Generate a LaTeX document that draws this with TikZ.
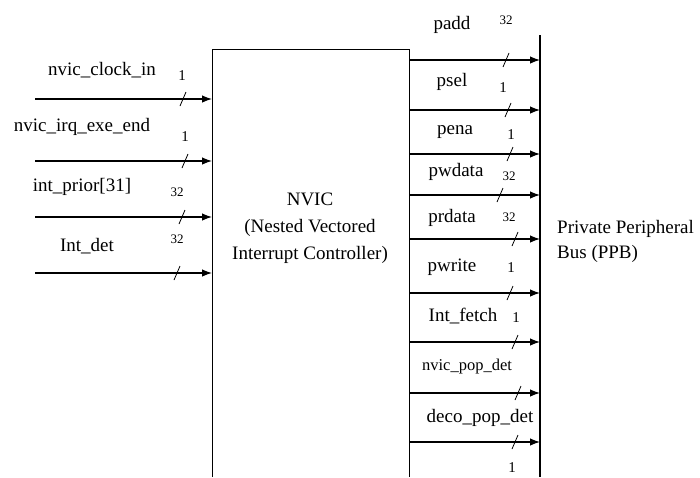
\documentclass[tikz,border=0pt]{standalone}
\usepackage{fontspec}
\setmainfont{Liberation Serif}
\usetikzlibrary{arrows.meta, positioning, calc}

\tikzset{
  sig/.style={line width=1.2pt, -{Latex[length=10pt,width=7.5pt]}},
  lbl/.style={font=\fontsize{19}{27}\selectfont, inner sep=0pt},
  wid/.style={font=\fontsize{13}{15}\selectfont, inner sep=0pt},
  buswidth/.pic={\draw[line width=0.8pt] (-3,7) -- (3,-7);}
}

\begin{document}
\begin{tikzpicture}[x=1pt, y=-1pt]
		\useasboundingbox (0,0) rectangle (700,477);
		
		% NVIC block (open at the bottom) and the bus
		\coordinate (boxW) at (212,0);
		\coordinate (boxE) at (409,0);
		\coordinate (busW) at (540,0);
		\draw[line width=1pt] (212,477) -- (212,49) -- (409,49) -- (409,477);
		\draw[line width=1.2pt] (540,35) -- (540,477);
		\node[lbl, align=center] (nvic) at (310,228) {NVIC\\(Nested Vectored\\Interrupt Controller)};
		\node[lbl, align=left, anchor=west, font=\fontsize{19}{25}\selectfont] (ppb) at (557,241) {Private Peripheral\\Bus (PPB)};
		
		% Inputs
		\coordinate (clkin) at (35,99);
		\coordinate (irqend) at (35,161);
		\coordinate (prior) at (35,217);
		\coordinate (intdet) at (35,273);
		\draw[sig] (clkin) -- (clkin -| boxW);
		\draw[sig] (irqend) -- (irqend -| boxW);
		\draw[sig] (prior) -- (prior -| boxW);
		\draw[sig] (intdet) -- (intdet -| boxW);
		\pic at (183,99) {buswidth};
		\pic at (185,161) {buswidth};
		\pic at (182,217) {buswidth};
		\pic at (177,273) {buswidth};
		\node[lbl] (clkinL) at (102,70) {nvic\_clock\_in};
		\node[lbl] (irqendL) at (82,127) {nvic\_irq\_exe\_end};
		\node[lbl] (priorL) at (82,187) {int\_prior[31]};
		\node[lbl] (intdetL) at (87,246) {Int\_det};
		\node[lbl, font=\fontsize{15}{17}\selectfont] (clkinW) at (182,76) {1};
		\node[lbl, font=\fontsize{15}{17}\selectfont] (irqendW) at (185,137) {1};
		\node[wid] (priorW) at (177,192) {32};
		\node[wid] (intdetW) at (177,239) {32};
		
		% Outputs to the PPB
		\coordinate (padd) at (boxE |- 0,60);
		\coordinate (psel) at (boxE |- 0,110);
		\coordinate (pena) at (boxE |- 0,154);
		\coordinate (pwdata) at (boxE |- 0,195);
		\coordinate (prdata) at (boxE |- 0,239);
		\coordinate (pwrite) at (boxE |- 0,293);
		\coordinate (fetch) at (boxE |- 0,342);
		\coordinate (nvicpop) at (boxE |- 0,393);
		\coordinate (decopop) at (boxE |- 0,442);
		\draw[sig] (padd) -- (padd -| busW);
		\draw[sig] (psel) -- (psel -| busW);
		\draw[sig] (pena) -- (pena -| busW);
		\draw[sig] (pwdata) -- (pwdata -| busW);
		\draw[sig] (prdata) -- (prdata -| busW);
		\draw[sig] (pwrite) -- (pwrite -| busW);
		\draw[sig] (fetch) -- (fetch -| busW);
		\draw[sig] (nvicpop) -- (nvicpop -| busW);
		\draw[sig] (decopop) -- (decopop -| busW);
		\pic at (506,60) {buswidth};
		\pic at (508,110) {buswidth};
		\pic at (510,154) {buswidth};
		\pic at (500,195) {buswidth};
		\pic at (515,239) {buswidth};
		\pic at (510,293) {buswidth};
		\pic at (515,342) {buswidth};
		\pic at (518,393) {buswidth};
		\pic at (515,442) {buswidth};
		\node[lbl] (paddL) at (452,25) {padd};
		\node[lbl] (pselL) at (452,82) {psel};
		\node[lbl] (penaL) at (455,132) {pena};
		\node[lbl] (pwdataL) at (456,172) {pwdata};
		\node[lbl] (prdataL) at (452,218) {prdata};
		\node[lbl] (pwriteL) at (452,267) {pwrite};
		\node[lbl] (fetchL) at (463,316) {Int\_fetch};
		\node[lbl, font=\fontsize{16.5}{19}\selectfont] (nvicpopL) at (467,367) {nvic\_pop\_det};
		\node[lbl] (decopopL) at (480,418) {deco\_pop\_det};
		\node[wid] (paddW) at (506,20) {32};
		\node[lbl, font=\fontsize{15}{17}\selectfont] (pselW) at (503,88) {1};
		\node[lbl, font=\fontsize{15}{17}\selectfont] (penaW) at (511,135) {1};
		\node[wid] (pwdataW) at (509,176) {32};
		\node[wid] (prdataW) at (509,217) {32};
		\node[lbl, font=\fontsize{15}{17}\selectfont] (pwriteW) at (511,268) {1};
		\node[lbl, font=\fontsize{15}{17}\selectfont] (fetchW) at (516,318) {1};
		\node[lbl, font=\fontsize{15}{17}\selectfont] (decopopW) at (512,468) {1};
	\end{tikzpicture}
\end{document}
